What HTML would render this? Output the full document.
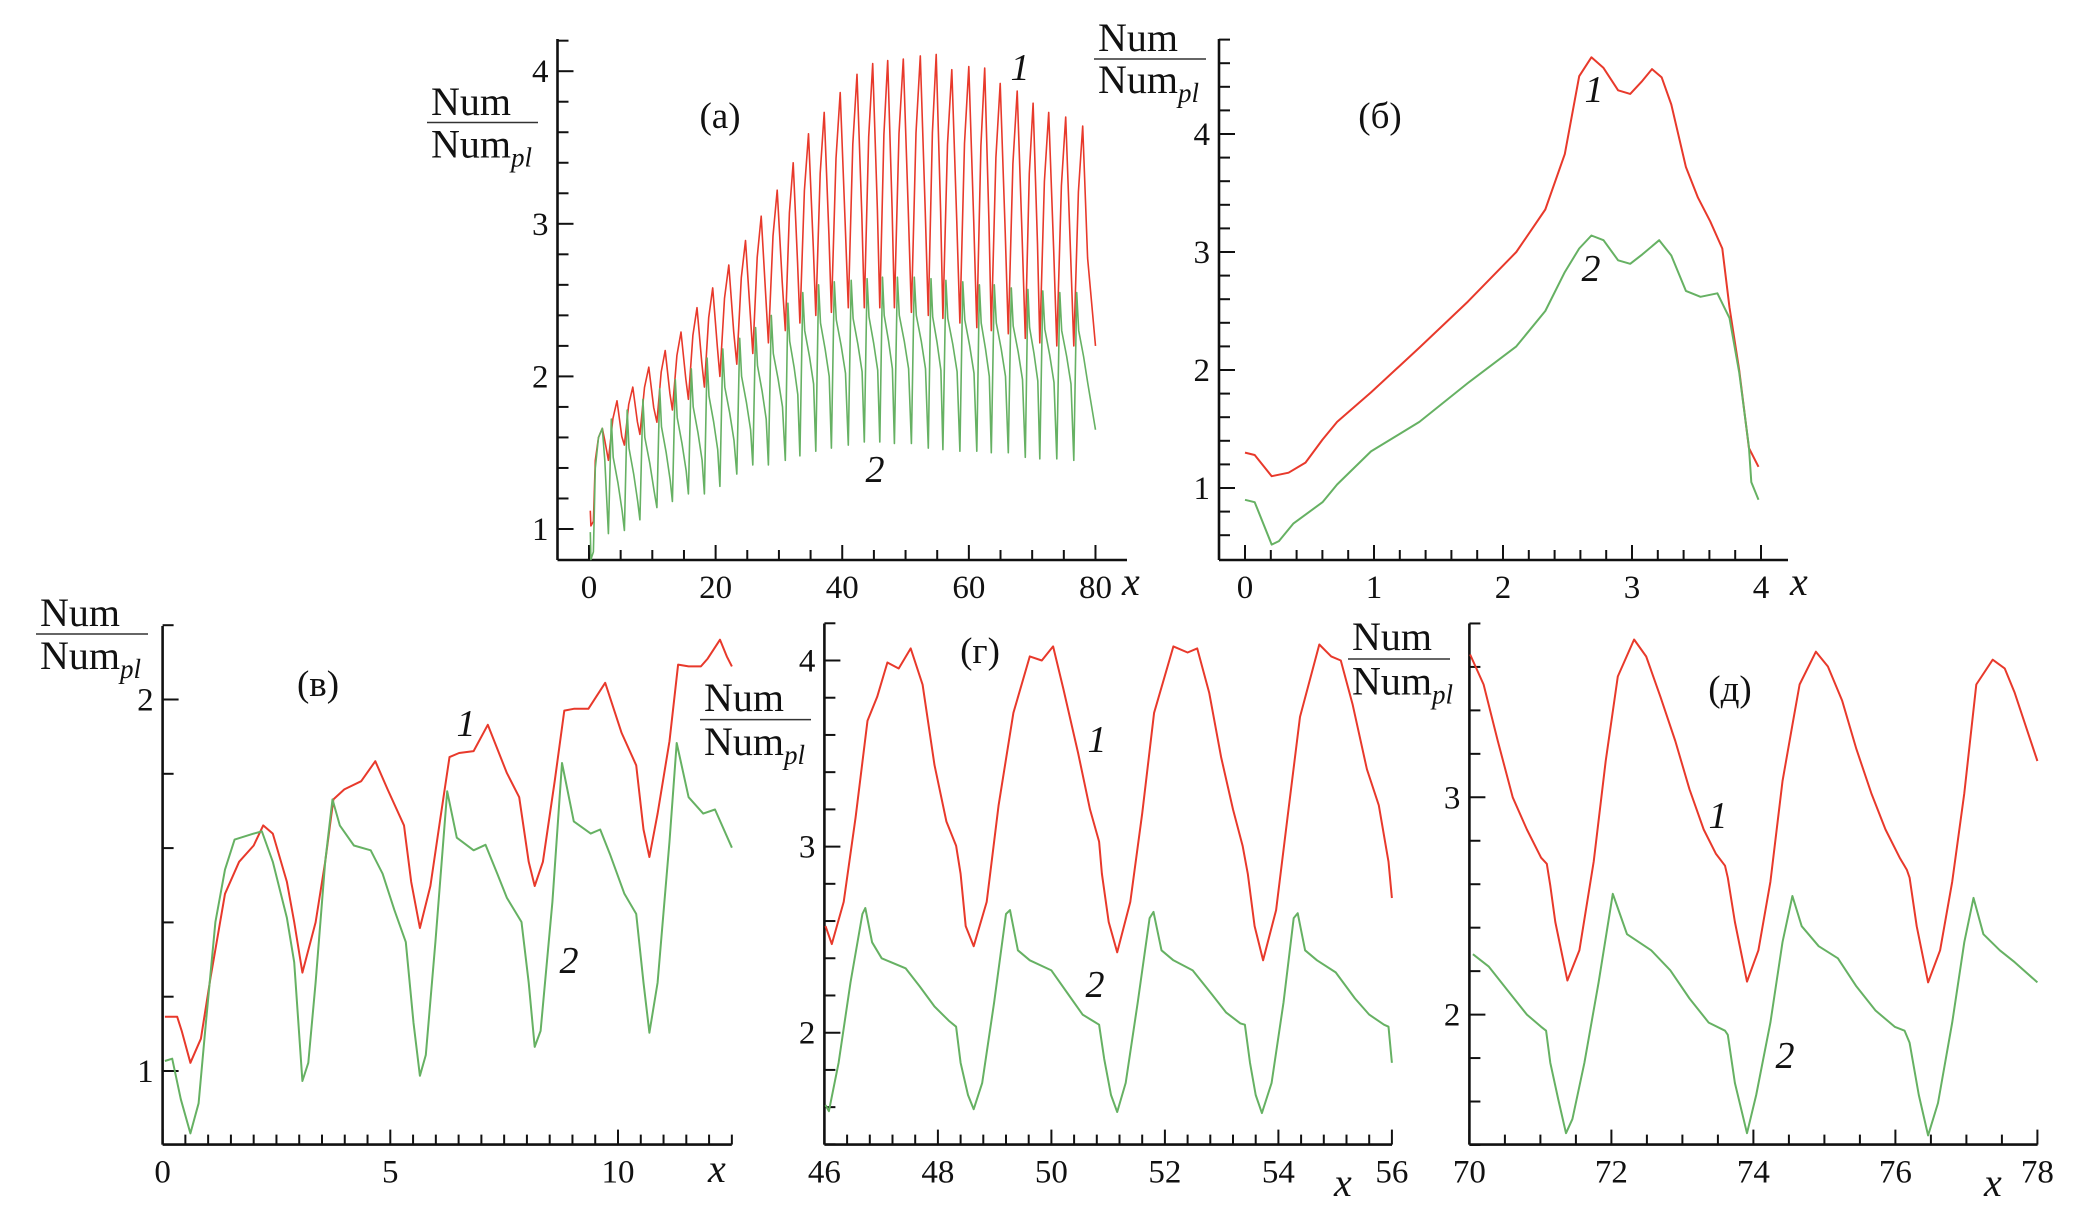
<!DOCTYPE html>
<html>
<head>
<meta charset="utf-8">
<style>
  html,body{margin:0;padding:0;background:#fff;}
  svg{display:block;}
  svg text{font-family:"Liberation Serif","DejaVu Serif",serif;fill:#111;}
</style>
</head>
<body>
<svg id="fig" width="2095" height="1211" viewBox="0 0 2095 1211" xmlns="http://www.w3.org/2000/svg" font-family="'Liberation Serif', 'DejaVu Serif', serif">
  <rect x="0" y="0" width="2095" height="1211" fill="#fff"/>
</svg>
<script>
// ---------- Panel (a) data: cycle-based readings ----------
const aTroughX = [3.06,5.59,8.04,10.72,13.17,15.70,18.22,20.67,23.35,25.88,28.33,31.01,33.31,35.83,38.28,40.96,43.49,45.94,48.24,50.92,53.60,55.90,58.58,61.26,63.55,66.23,68.91,71.21,73.89,76.57];
const aRedPeak = [1.84,1.93,2.06,2.17,2.29,2.45,2.58,2.73,2.89,3.05,3.22,3.40,3.59,3.73,3.86,3.98,4.05,4.07,4.08,4.10,4.11,4.01,4.03,4.02,3.92,3.87,3.79,3.73,3.70,3.64];
const aRedTrough = [1.45,1.55,1.62,1.70,1.78,1.85,1.93,2.00,2.08,2.15,2.22,2.30,2.35,2.40,2.42,2.45,2.45,2.45,2.45,2.42,2.40,2.38,2.35,2.32,2.30,2.28,2.25,2.22,2.20,2.20];
const aGreenPeak = [1.72,1.78,1.85,1.92,1.98,2.05,2.12,2.18,2.25,2.32,2.40,2.48,2.55,2.60,2.62,2.63,2.64,2.65,2.65,2.65,2.64,2.63,2.62,2.60,2.60,2.58,2.57,2.56,2.55,2.55];
const aGreenTrough = [0.97,0.99,1.06,1.14,1.18,1.23,1.23,1.28,1.36,1.42,1.42,1.45,1.48,1.51,1.53,1.55,1.57,1.57,1.56,1.56,1.53,1.52,1.51,1.51,1.50,1.50,1.47,1.46,1.46,1.45];
const aStartX = [0.2,0.3,0.7,1.0,1.5,2.1,2.5];
const aStartRed = [1.12,1.02,1.05,1.45,1.60,1.66,1.58];
const aStartGreen = [0.98,0.80,0.85,1.40,1.60,1.66,1.45];
const aEndX = 80;
const aEndRed = 2.2;
const aEndGreen = 1.65;

// ---------- Panel (б) data ----------
const bX1 = [0,0.075,0.207,0.338,0.469,0.601,0.714,0.977,1.352,1.728,2.103,2.328,2.479,2.591,2.685,2.779,2.892,2.986,3.080,3.155,3.230,3.305,3.418,3.512,3.606,3.700,3.756,3.831,3.906,3.981];
const bY1 = [1.30,1.28,1.10,1.13,1.215,1.41,1.56,1.81,2.19,2.58,3.00,3.36,3.83,4.49,4.65,4.56,4.37,4.34,4.45,4.55,4.48,4.25,3.72,3.46,3.26,3.03,2.53,2.00,1.34,1.18];
const bX2 = [0,0.075,0.207,0.263,0.376,0.601,0.714,0.977,1.352,1.728,2.103,2.328,2.479,2.591,2.685,2.779,2.892,2.986,3.080,3.211,3.305,3.418,3.531,3.662,3.756,3.831,3.906,3.925,3.981];
const bY2 = [0.90,0.88,0.52,0.55,0.70,0.88,1.03,1.31,1.56,1.89,2.20,2.50,2.83,3.03,3.14,3.10,2.93,2.90,2.98,3.10,2.97,2.67,2.62,2.65,2.44,1.98,1.35,1.05,0.90];

// ---------- Panel (в) data ----------
const cX1 = [0.05,0.32,0.42,0.61,0.84,1.05,1.37,1.68,2.00,2.21,2.42,2.73,2.89,3.07,3.36,3.57,3.75,3.99,4.36,4.67,4.94,5.30,5.46,5.65,5.88,6.09,6.30,6.51,6.83,7.14,7.56,7.83,8.04,8.17,8.35,8.61,8.82,9.03,9.35,9.72,10.08,10.40,10.56,10.69,10.87,11.13,11.32,11.55,11.82,11.97,12.24,12.39,12.50];
const cY1 = [1.146,1.146,1.108,1.022,1.087,1.249,1.477,1.563,1.607,1.661,1.639,1.509,1.401,1.265,1.40,1.563,1.731,1.758,1.78,1.834,1.758,1.661,1.509,1.385,1.498,1.672,1.845,1.856,1.861,1.932,1.802,1.737,1.563,1.498,1.563,1.78,1.97,1.975,1.975,2.045,1.91,1.823,1.65,1.576,1.693,1.888,2.094,2.089,2.089,2.11,2.161,2.116,2.089];
const cX2 = [0.05,0.21,0.40,0.61,0.79,0.95,1.16,1.37,1.58,2.00,2.18,2.42,2.73,2.89,3.07,3.20,3.36,3.57,3.73,3.89,4.20,4.57,4.83,5.09,5.34,5.51,5.65,5.78,5.99,6.25,6.46,6.83,7.09,7.35,7.56,7.88,8.04,8.17,8.30,8.56,8.77,9.03,9.40,9.61,9.82,10.14,10.40,10.56,10.69,10.87,11.13,11.29,11.55,11.87,12.13,12.50];
const cY2 = [1.027,1.033,0.924,0.832,0.913,1.13,1.401,1.542,1.623,1.639,1.645,1.563,1.412,1.293,0.973,1.022,1.238,1.563,1.731,1.661,1.607,1.594,1.531,1.433,1.347,1.13,0.987,1.043,1.347,1.753,1.628,1.594,1.609,1.531,1.466,1.401,1.238,1.065,1.108,1.455,1.829,1.672,1.639,1.65,1.585,1.477,1.423,1.238,1.103,1.238,1.618,1.883,1.737,1.693,1.704,1.601];

// ---------- Panel (г) data ----------
const dX1 = [46.02,46.13,46.34,46.55,46.76,46.93,47.11,47.31,47.52,47.73,47.94,48.15,48.32,48.40,48.49,48.63,48.86,49.07,49.33,49.62,49.83,50.03,50.21,50.47,50.68,50.84,50.89,51.01,51.16,51.39,51.60,51.81,52.15,52.40,52.57,52.78,52.99,53.20,53.37,53.46,53.58,53.73,53.96,54.17,54.38,54.72,54.93,55.10,55.31,55.56,55.77,55.94,56.0];
const dY1 = [2.573,2.476,2.703,3.157,3.676,3.805,3.989,3.957,4.065,3.870,3.438,3.135,3.005,2.854,2.573,2.465,2.703,3.222,3.719,4.022,4.0,4.076,3.849,3.503,3.2,3.027,2.854,2.595,2.432,2.703,3.178,3.719,4.076,4.043,4.065,3.827,3.481,3.2,3.005,2.854,2.573,2.389,2.659,3.178,3.697,4.086,4.022,4.0,3.762,3.416,3.222,2.919,2.724];
const dX2 = [46.02,46.08,46.25,46.46,46.67,46.72,46.84,47.01,47.43,47.68,47.94,48.19,48.32,48.40,48.53,48.63,48.78,48.99,49.20,49.27,49.41,49.62,50.0,50.30,50.55,50.76,50.84,50.93,51.05,51.16,51.31,51.52,51.73,51.80,51.94,52.15,52.49,52.83,53.08,53.33,53.41,53.50,53.60,53.71,53.88,54.09,54.27,54.34,54.47,54.68,55.01,55.35,55.60,55.86,55.94,56.0];
const dY2 = [1.611,1.578,1.838,2.270,2.638,2.670,2.486,2.4,2.346,2.249,2.141,2.065,2.032,1.838,1.665,1.589,1.730,2.162,2.638,2.659,2.443,2.389,2.335,2.205,2.097,2.058,2.043,1.859,1.665,1.574,1.730,2.162,2.616,2.649,2.443,2.389,2.335,2.205,2.108,2.050,2.043,1.838,1.665,1.568,1.730,2.162,2.616,2.642,2.443,2.389,2.324,2.184,2.097,2.043,2.032,1.838];

// ---------- Panel (д) data ----------
const eX1 = [70.01,70.20,70.40,70.61,70.81,71.01,71.09,71.14,71.21,71.38,71.55,71.75,71.92,72.09,72.32,72.49,72.69,72.90,73.10,73.30,73.47,73.60,73.64,73.74,73.91,74.07,74.24,74.41,74.55,74.65,74.88,75.05,75.25,75.45,75.66,75.86,76.06,76.16,76.20,76.30,76.46,76.63,76.80,76.97,77.14,77.37,77.54,77.68,77.85,78.0];
const eY1 = [3.657,3.519,3.259,3.0,2.852,2.722,2.694,2.593,2.426,2.157,2.296,2.704,3.167,3.556,3.726,3.648,3.463,3.259,3.037,2.852,2.741,2.685,2.630,2.426,2.152,2.296,2.611,3.074,3.333,3.519,3.670,3.602,3.444,3.222,3.019,2.852,2.722,2.667,2.630,2.407,2.148,2.296,2.611,3.019,3.519,3.633,3.593,3.481,3.315,3.167];
const eX2 = [70.05,70.27,70.54,70.81,71.01,71.08,71.14,71.25,71.36,71.45,71.62,71.82,72.02,72.12,72.22,72.56,72.83,73.10,73.37,73.60,73.64,73.74,73.91,74.04,74.24,74.41,74.55,74.68,74.92,75.19,75.45,75.72,75.99,76.13,76.20,76.33,76.46,76.60,76.80,76.97,77.10,77.24,77.47,77.68,78.0];
const eY2 = [2.278,2.222,2.111,2.0,1.944,1.926,1.778,1.611,1.454,1.519,1.778,2.148,2.556,2.463,2.370,2.296,2.204,2.074,1.963,1.926,1.907,1.685,1.454,1.630,1.963,2.333,2.546,2.407,2.315,2.259,2.130,2.019,1.944,1.926,1.870,1.630,1.444,1.593,1.963,2.333,2.537,2.370,2.296,2.241,2.148];

// ---------- tick labels ----------
const aXTicks = [0,20,40,60,80];
const aYTicks = [1,2,3,4];
const bXTicks = [0,1,2,3,4];
const bYTicks = [1,2,3,4];
const cXTicks = [0,5,10];
const cYTicks = [1,2];
const dXTicks = [46,48,50,52,54,56];
const dYTicks = [2,3,4];
const eXTicks = [70,72,74,76,78];
const eYTicks = [2,3];

const NS = 'http://www.w3.org/2000/svg';
const svg = document.getElementById('fig');
const RED = '#e8392b';
const GREEN = '#66b163';
const SERIF = "'Liberation Serif', 'DejaVu Serif', serif";

function mk(tag, attrs, name, parent) {
  const el = document.createElementNS(NS, tag);
  for (const k in attrs) el.setAttribute(k, attrs[k]);
  
  
  (parent || svg).appendChild(el);
  return el;
}
function txt(x, y, s, size, name, extra, parent) {
  const t = mk('text', Object.assign({x: x, y: y, 'font-size': size, 'font-family': SERIF, fill: '#111'}, extra || {}), name, parent);
  t.textContent = s;
  return t;
}

function panel(p) {
  const g = mk('g', {}, p.name);
  p.sx = v => p.xpx0 + (v - p.xv0) * p.xs;
  p.sy = v => p.ypx0 - (v - p.yv0) * p.ys;
  mk('line', {x1: p.axX, y1: p.axTop, x2: p.axX, y2: p.axY, stroke: '#111', 'stroke-width': 2.6}, 'y-axis', g);
  mk('line', {x1: p.axX, y1: p.axY, x2: p.axRight, y2: p.axY, stroke: '#111', 'stroke-width': 2.6}, 'x-axis', g);
  const nx = Math.round((p.xmax - p.xmin) / p.xstep);
  for (let i = 0; i <= nx; i++) {
    const v = p.xmin + i * p.xstep;
    const X = p.sx(v);
    const major = p.xTicks.some(t => Math.abs(t - v) < 1e-6);
    mk('line', {x1: X, y1: p.axY, x2: X, y2: p.axY - (major ? 15 : 10), stroke: '#111', 'stroke-width': 2}, 'x-tick', g);
  }
  p.xTicks.forEach(v => {
    txt(p.sx(v), p.axY + 38, String(v), 33, 'x-tick-label', {'text-anchor': 'middle'}, g);
  });
  const ny = Math.round((p.ymax - p.ymin) / p.ystep);
  for (let i = 0; i <= ny; i++) {
    const v = p.ymin + i * p.ystep;
    const Y = p.sy(v);
    const major = p.yTicks.some(t => Math.abs(t - v) < 1e-6);
    mk('line', {x1: p.axX, y1: Y, x2: p.axX + (major ? 16 : 11), y2: Y, stroke: '#111', 'stroke-width': 2}, 'y-tick', g);
  }
  p.yTicks.forEach(v => {
    txt(p.axX - 9, p.sy(v) + 11, String(v), 33, 'y-tick-label', {'text-anchor': 'end'}, g);
  });
  txt(p.xlx, p.xly, 'x', 40, 'x-axis-title', {'font-style': 'italic'}, g);
  txt(p.tagX, p.tagY, p.tag, 37, 'panel-label', {'text-anchor': 'middle'}, g);
  return g;
}

function yLabel(x, yNum, yLine, yPl, w, name) {
  const g = mk('g', {}, name);
  txt(x + 4, yNum, 'Num', 40, 'y-label-numerator', {}, g);
  mk('line', {x1: x, y1: yLine, x2: x + w, y2: yLine, stroke: '#333', 'stroke-width': 1.5}, 'y-label-fraction-bar', g);
  const t = txt(x + 4, yPl, 'Num', 40, 'y-label-denominator', {}, g);
  const ts = document.createElementNS(NS, 'tspan');
  
  
  ts.setAttribute('font-size', '27');
  ts.setAttribute('font-style', 'italic');
  ts.setAttribute('dy', '9');
  ts.textContent = 'pl';
  t.appendChild(ts);
}

function poly(p, xs, ys, color, w, name, g) {
  const pts = xs.map((x, i) => p.sx(x).toFixed(1) + ',' + p.sy(ys[i]).toFixed(1)).join(' ');
  mk('polyline', {points: pts, fill: 'none', stroke: color, 'stroke-width': w, 'stroke-linejoin': 'round'}, name, g);
}

// ---------- Panel A ----------
const A = {name: 'panel-a', tag: '(a)', tagX: 720, tagY: 128, axX: 557.5, axY: 560, axTop: 39, axRight: 1127,
  xv0: 0, xpx0: 589, xs: 6.331, yv0: 1, ypx0: 529, ys: 152.6,
  xmin: 0, xmax: 80, xstep: 5, ymin: 1, ymax: 4.2, ystep: 0.2, xTicks: aXTicks, yTicks: aYTicks, xlx: 1122, xly: 595};
const gA = panel(A);
{
  const rx = aStartX.slice(), ry = aStartRed.slice(), gx = aStartX.slice(), gy = aStartGreen.slice();
  for (let k = 0; k < aTroughX.length; k++) {
    const t = aTroughX[k];
    const next = k < aTroughX.length - 1 ? aTroughX[k + 1] : aEndX;
    const per = Math.min(next - t, 2.6);
    const T = aRedTrough[k], P = aRedPeak[k];
    rx.push(t, t + 0.28 * per, t + 0.54 * per, t + 0.84 * per);
    ry.push(T, T + 0.7 * (P - T), P, T + 0.4 * (P - T));
    const gT = aGreenTrough[k], gP = aGreenPeak[k];
    gx.push(t, t + 0.18 * per, t + 0.3 * per, t + 0.6 * per, t + 0.86 * per);
    gy.push(gT, gP, gP - 0.25, gP - 0.42, gP - 0.6);
  }
  rx.push(aEndX); ry.push(aEndRed);
  gx.push(aEndX); gy.push(aEndGreen);
  poly(A, rx, ry, RED, 1.6, 'series-1-line', gA);
  poly(A, gx, gy, GREEN, 1.6, 'series-2-line', gA);
}
txt(1020, 80, '1', 38, 'series-1-label', {'font-style': 'italic', 'text-anchor': 'middle'}, gA);
txt(875, 482, '2', 38, 'series-2-label', {'font-style': 'italic', 'text-anchor': 'middle'}, gA);
yLabel(427, 115, 122.5, 157.5, 111, 'y-axis-title-a');

// ---------- Panel B ----------
const B = {name: 'panel-b', tag: '(б)', tagX: 1380, tagY: 128, axX: 1219, axY: 560, axTop: 39, axRight: 1788,
  xv0: 0, xpx0: 1245, xs: 129, yv0: 1, ypx0: 488, ys: 118,
  xmin: 0, xmax: 4, xstep: 0.2, ymin: 0.6, ymax: 4.8, ystep: 0.2, xTicks: bXTicks, yTicks: bYTicks, xlx: 1790, xly: 595};
const gB = panel(B);
poly(B, bX1, bY1, RED, 2, 'series-1-line', gB);
poly(B, bX2, bY2, GREEN, 2, 'series-2-line', gB);
txt(1594, 102, '1', 38, 'series-1-label', {'font-style': 'italic', 'text-anchor': 'middle'}, gB);
txt(1591, 281, '2', 38, 'series-2-label', {'font-style': 'italic', 'text-anchor': 'middle'}, gB);
yLabel(1094, 51, 59, 93, 112, 'y-axis-title-b');

// ---------- Panel C (в) ----------
const C = {name: 'panel-v', tag: '(в)', tagX: 318, tagY: 696, axX: 162.6, axY: 1144.6, axTop: 626, axRight: 731.8,
  xv0: 0, xpx0: 162.6, xs: 45.54, yv0: 1, ypx0: 1071, ys: 371.5,
  xmin: 0, xmax: 12.5, xstep: 0.5, ymin: 1, ymax: 2.2, ystep: 0.2, xTicks: cXTicks, yTicks: cYTicks, xlx: 708, xly: 1182};
const gC = panel(C);
poly(C, cX1, cY1, RED, 2, 'series-1-line', gC);
poly(C, cX2, cY2, GREEN, 2, 'series-2-line', gC);
txt(466, 736, '1', 38, 'series-1-label', {'font-style': 'italic', 'text-anchor': 'middle'}, gC);
txt(569, 973, '2', 38, 'series-2-label', {'font-style': 'italic', 'text-anchor': 'middle'}, gC);
yLabel(36, 626, 634, 669, 112, 'y-axis-title-v');

// ---------- Panel D (г) ----------
const D = {name: 'panel-g', tag: '(г)', tagX: 980, tagY: 663, axX: 824.4, axY: 1144.6, axTop: 623.5, axRight: 1392,
  xv0: 46, xpx0: 824.4, xs: 56.75, yv0: 2, ypx0: 1032.7, ys: 186.1,
  xmin: 46, xmax: 56, xstep: 0.4, ymin: 1.4, ymax: 4.2, ystep: 0.2, xTicks: dXTicks, yTicks: dYTicks, xlx: 1334, xly: 1196};
const gD = panel(D);
poly(D, dX1, dY1, RED, 2, 'series-1-line', gD);
poly(D, dX2, dY2, GREEN, 2, 'series-2-line', gD);
txt(1097, 752, '1', 38, 'series-1-label', {'font-style': 'italic', 'text-anchor': 'middle'}, gD);
txt(1095, 997, '2', 38, 'series-2-label', {'font-style': 'italic', 'text-anchor': 'middle'}, gD);
yLabel(700, 711, 719.6, 755, 111, 'y-axis-title-g');

// ---------- Panel E (д) ----------
const E = {name: 'panel-d', tag: '(д)', tagX: 1730, tagY: 701, axX: 1469.4, axY: 1144.6, axTop: 623.5, axRight: 2037.6,
  xv0: 70, xpx0: 1469.4, xs: 71.0, yv0: 2, ypx0: 1014.6, ys: 217.3,
  xmin: 70, xmax: 78, xstep: 0.5, ymin: 1.4, ymax: 3.8, ystep: 0.2, xTicks: eXTicks, yTicks: eYTicks, xlx: 1984, xly: 1196};
const gE = panel(E);
poly(E, eX1, eY1, RED, 2, 'series-1-line', gE);
poly(E, eX2, eY2, GREEN, 2, 'series-2-line', gE);
txt(1718, 828, '1', 38, 'series-1-label', {'font-style': 'italic', 'text-anchor': 'middle'}, gE);
txt(1785, 1068, '2', 38, 'series-2-label', {'font-style': 'italic', 'text-anchor': 'middle'}, gE);
yLabel(1348, 650, 659, 694.7, 102, 'y-axis-title-d');
</script>
</body>
</html>
